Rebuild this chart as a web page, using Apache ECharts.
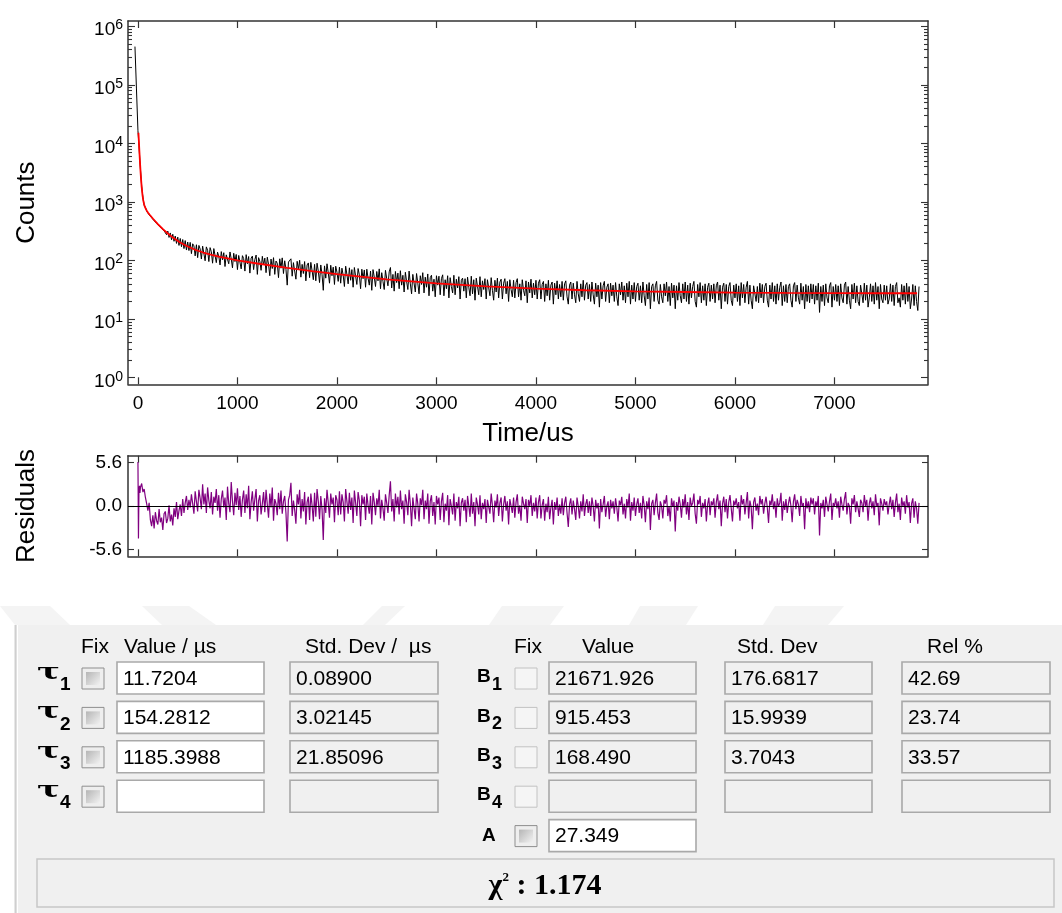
<!DOCTYPE html>
<html><head><meta charset="utf-8">
<script src="https://cdn.jsdelivr.net/npm/echarts@6/dist/echarts.min.js"></script>
<style>html,body{margin:0;padding:0;background:#fff}#c{width:1062px;height:913px}</style>
</head><body><div id="c"></div>
<script>
// ---------- axis ticks ----------
const X_TICKS = [0, 1000, 2000, 3000, 4000, 5000, 6000, 7000];
const Y_DECADES = [1, 10, 100, 1000, 10000, 100000, 1000000];
const Y_MINOR_MULT = [2, 3, 4, 5, 6, 7, 8, 9];
const RES_TICKS = [-5.6, 0, 5.6];

// ---------- decay data (counts) ----------
const COUNTS_EARLY = [[-30, 450000], [-15, 85000], [0, 16500], [10, 9300], [20, 4800]];
const COUNTS_T0 = 25, COUNTS_DT = 12.5;
const COUNTS = [
3610,1850,1190,880,812,698,676,602,605,538,541,478,482,430,437,388,395,351,358,322,
345,276,318,248,296,226,281,213,262,196,251,181,238,172,228,160,219,151,207,148,
204,131,193,178,120,186,112,181,158,106,176,164,99,171,150,96,166,141,90,160,
148,92,139,118,84,142,103,136,79,125,131,88,140,107,75,133,96,127,70,122,
129,72,121,108,66,126,88,117,61,110,119,70,104,124,58,112,97,68,118,84,
110,62,114,86,55,106,73,112,58,98,90,51,107,74,111,60,99,71,38,94,
95,107,54,92,66,48,97,71,101,52,86,60,96,45,84,91,51,93,67,47,
86,45,90,66,42,84,58,31,81,50,88,62,41,83,55,77,39,80,63,44,
77,41,74,56,36,80,58,40,75,46,70,35,76,54,39,73,57,33,71,49,
69,35,71,50,38,66,31,70,52,36,65,45,72,33,62,44,32,68,49,37,
64,76,34,58,30,65,42,61,33,67,38,56,29,63,44,32,66,40,27,58,
57,29,60,41,27,55,39,62,28,52,35,59,25,51,56,30,48,24,55,38,
54,26,49,57,25,47,33,55,23,51,36,28,56,26,48,34,53,22,46,50,
30,49,23,52,35,25,54,27,47,21,50,36,26,53,24,45,32,49,22,47,
47,25,51,31,21,46,29,50,23,43,48,22,41,49,27,44,20,47,32,24,
46,23,42,49,24,40,21,47,31,25,45,19,43,28,48,23,41,26,46,22,
41,47,22,39,44,20,40,25,46,21,38,43,18,41,26,45,22,39,24,44,
21,40,45,24,18,38,43,22,41,26,19,44,27,20,40,24,46,21,38,42,
22,39,20,43,26,18,41,24,38,16,42,22,37,44,20,35,40,19,41,25,
38,20,42,24,17,40,26,43,21,37,19,41,24,44,18,38,22,42,20,36,
41,21,37,19,43,25,17,39,22,42,15,36,40,20,37,44,21,18,39,24,
19,40,25,43,20,36,17,41,23,38,15,37,21,42,25,19,40,22,43,20,
38,18,41,23,36,44,20,16,39,24,42,19,37,21,40,17,35,41,20,38,
22,40,19,37,43,21,38,15,35,41,20,39,18,36,42,21,17,38,23,40,
20,37,17,42,23,39,19,35,44,18,38,21,15,37,40,20,36,19,41,23,
39,19,36,41,21,16,38,22,42,20,37,18,40,21,35,43,17,37,20,39,
19,36,40,21,16,37,42,20,38,23,18,41,21,36,15,39,20,37,19,40,
22,39,18,37,21,41,13,36,20,38,17,40,23,19,37,42,16,36,21,39,
20,37,17,40,23,19,38,43,18,36,21,15,39,22,41,19,37,20,17,38,
36,19,41,21,38,16,23,40,20,37,18,42,21,36,15,39,22,19,38,21,
37,18,22,40,20,38,17,36,42,19,23,16,39,21,37,18,41,20,36,15,
22,39,17,37,20,14,36
];

// ---------- fitted curve ----------
const FIT_T = [5,10,15,20,25,30,37,45,53,62,72,87,100,120,154,200,251,300,355,420,490,570,656,740,824,1000,1200,1500,1750,2000,2500,3000,3500,4000,4500,5000,5500,6000,6500,7000,7500,7830];
const FIT_V = [15200,10300,7050,4930,3540,2620,1830,1340,1070,908,806,718,661,599,512,420,343,289,244,205,177,154,137,125,115,101,89,75,65.8,58.5,47.8,40.8,36.1,33.1,31.1,29.8,29.0,28.4,28.0,27.8,27.6,27.6];

// ---------- residuals ----------
const RES_EARLY = [[0, 5.7], [5, -4.2], [10, 1.8], [15, 2.6], [20, 1.7]];
const RES_T0 = 25, RES_DT = 12.5;
const RESIDUALS = [
2.4,2.9,1.8,2.2,1.1,0.3,-0.6,0.4,-1.8,-2.6,-1.2,-2.9,-0.8,-1.9,-2.4,-0.4,-2.1,-1.5,-3.1,-1.0,
-0.7,-2.2,-1.6,0.1,-2.0,-1.1,-2.5,-0.3,-1.4,0.5,-1.7,-0.6,0.2,-1.3,0.9,-0.9,0.4,1.3,-0.5,0.8,
-0.2,1.5,0.3,-1.0,1.9,0.6,-0.7,2.1,1.0,-0.4,2.8,0.2,1.6,-0.9,2.4,0.7,-0.3,1.8,-1.1,1.2,
0.4,2.2,-0.6,1.4,-1.5,0.9,2.0,-0.2,1.1,-1.8,2.5,0.3,-0.8,3.1,0.6,-1.2,1.7,0.1,2.3,-0.5,
1.3,-1.4,0.8,2.0,-0.9,1.5,-0.3,2.6,-1.7,0.5,1.9,-0.6,0.9,2.2,-2.0,0.7,1.4,-1.1,0.3,1.8,
-0.8,2.1,0.2,-1.5,1.6,-0.2,2.4,-1.9,0.9,0.3,-1.2,1.7,-0.4,2.0,-1.0,0.6,1.3,-0.9,-4.6,0.8,
1.4,3.0,-1.3,0.7,-0.5,-2.3,1.5,0.2,2.1,-1.6,0.9,-0.7,1.8,-2.4,0.5,1.2,-1.8,1.6,0.1,-2.0,
1.7,-1.4,2.2,0.6,-1.7,1.3,-0.4,-4.4,1.0,-0.9,2.1,0.4,-1.5,1.6,0.2,1.1,-2.1,1.4,0.8,-1.2,
1.9,-1.1,1.5,0.5,-2.0,2.2,0.6,-1.0,1.7,-0.5,1.1,-2.2,2.0,0.4,-1.3,1.8,0.7,-2.6,1.4,0.2,
1.2,-1.8,1.6,0.1,-1.0,1.3,-2.4,1.7,0.5,-1.2,1.0,0.0,2.1,-1.6,0.8,-0.3,-1.9,1.5,0.4,-0.9,
1.4,3.2,-0.7,0.9,-2.0,1.6,-0.2,1.2,-1.1,2.0,-0.4,0.7,-2.3,1.5,0.5,-1.2,2.1,0.3,-2.6,1.1,
1.0,-1.7,1.6,0.3,-2.0,1.0,0.1,2.1,-1.7,0.7,-0.4,1.6,-2.3,0.6,1.4,-1.3,0.5,-2.4,1.3,0.2,
1.1,-1.8,0.6,1.7,-2.1,0.3,-0.6,1.4,-2.5,0.9,0.0,-1.1,1.6,-1.9,0.5,-0.3,1.2,-2.6,0.4,1.0,
-0.6,0.8,-2.1,1.3,0.0,-1.4,1.6,-1.0,0.5,-2.6,1.1,0.2,-1.1,1.4,-1.7,0.4,-0.4,0.9,-2.2,0.8,
0.9,-1.0,1.6,0.1,-2.1,0.7,-0.2,1.5,-1.3,0.4,1.1,-2.0,0.2,1.3,-0.6,0.6,-2.4,0.9,0.0,-0.9,
1.1,-1.5,0.5,1.5,-1.0,0.1,-1.9,1.2,0.3,-0.4,0.9,-2.2,0.8,0.0,1.4,-1.3,0.4,-0.7,1.1,-1.6,
0.5,1.4,-1.6,0.1,0.9,-1.9,0.3,-0.8,1.2,-1.7,-0.2,0.8,-2.4,0.5,-0.5,1.1,-1.3,0.2,-1.0,1.0,
-1.2,0.4,1.2,-0.9,-2.7,0.2,1.0,-1.1,0.7,-0.4,-1.8,1.1,0.0,-1.6,0.6,-0.7,1.5,-1.3,0.2,0.9,
-0.9,0.6,-1.3,1.1,0.0,-2.0,0.8,-0.3,0.4,-2.9,0.9,-0.8,0.2,1.3,-1.4,0.0,0.6,-1.7,0.8,-0.3,
0.6,-1.0,1.0,-0.2,-2.0,0.7,0.1,1.2,-1.1,0.3,-1.6,0.9,-0.2,1.6,-1.9,0.5,-0.6,1.1,-1.3,0.2,
1.0,-0.9,0.4,-1.6,1.3,0.1,-2.1,0.6,-0.4,1.1,-3.1,0.3,0.8,-1.2,0.4,1.6,-0.9,-1.8,0.6,0.0,
-1.6,0.8,0.3,1.4,-1.3,0.0,-2.0,1.0,-0.1,0.7,-3.3,0.5,-0.6,1.2,0.2,-1.5,0.9,-0.2,1.5,-1.1,
0.5,-1.8,1.1,0.0,0.4,1.6,-1.0,-2.3,0.8,0.2,1.3,-1.4,0.4,-0.3,0.9,-2.0,0.2,1.1,-1.2,0.6,
0.1,1.0,-1.5,0.5,1.5,-0.4,0.7,-2.6,0.3,1.2,-0.8,0.9,-1.6,0.5,1.4,-0.3,-2.0,0.7,0.1,1.0,
-0.3,0.5,-1.9,1.4,0.2,0.9,-1.1,0.4,1.8,-1.6,0.7,-0.1,-3.0,0.5,1.1,-0.6,0.3,-1.2,1.3,0.2,
0.9,-1.0,0.3,1.2,-0.2,-2.2,0.7,0.1,1.5,-0.4,0.6,-1.5,1.0,-0.1,0.4,1.7,-1.9,0.6,-0.5,0.9,
-0.9,0.3,1.2,0.0,-2.1,0.6,1.5,-0.4,0.8,0.2,-1.3,1.3,-0.1,0.4,-3.0,1.0,-0.3,0.6,-0.8,1.1,
0.2,1.0,-1.1,0.6,-0.1,1.3,-3.8,0.4,-0.3,0.8,-1.4,1.2,0.2,-0.7,0.6,1.6,-1.8,0.4,0.0,1.0,
-0.3,0.6,-1.5,1.2,0.2,-0.6,0.9,1.8,-1.1,0.4,0.0,-2.3,1.0,0.2,1.4,-0.8,0.6,-0.3,-1.4,0.8,
0.4,-0.8,1.4,0.0,0.8,-1.9,0.3,1.1,-0.3,0.6,-1.2,1.5,0.0,0.4,-2.5,1.0,0.3,-0.6,0.9,0.1,
0.6,-1.1,0.2,1.2,-0.4,0.8,-1.4,0.4,1.6,-0.8,0.3,-1.8,1.1,0.0,0.6,-1.0,1.4,-0.2,0.5,-2.2,
0.3,1.0,-1.5,0.6,-0.3,-2.3,0.4
];

// ---------- fit parameter table ----------
const TAU_LABELS = ['1', '2', '3', '4'];
const TAU_VALUES = ['11.7204', '154.2812', '1185.3988', ''];
const TAU_STD = ['0.08900', '3.02145', '21.85096', ''];
const B_VALUES = ['21671.926', '915.453', '168.490', ''];
const B_STD = ['176.6817', '15.9939', '3.7043', ''];
const REL_PCT = ['42.69', '23.74', '33.57', ''];
const A_VALUE = '27.349';
const CHI2 = '1.174';

// ---------- build ----------
const countsData = COUNTS_EARLY.concat(COUNTS.map((v, i) => [COUNTS_T0 + i * COUNTS_DT, v]));
const fitData = FIT_T.map((t, i) => [t, FIT_V[i]]);
const resData = RES_EARLY.concat(RESIDUALS.map((v, i) => [RES_T0 + i * RES_DT, v]));
const Y_MINOR = [];
Y_DECADES.slice(0, -1).forEach(d => Y_MINOR_MULT.forEach(m => Y_MINOR.push(d * m)));

const SANS = '"Liberation Sans", Arial, sans-serif';
const AX = '#333';
const X_MIN = -100, X_MAX = 7940;
const Y_MIN = 0.77, Y_MAX = 1.23e6;

function xAx(grid, pos, labels, extra) {
  return Object.assign({
    type: 'value', gridIndex: grid, position: pos, min: X_MIN, max: X_MAX,
    axisLine: { show: true, onZero: false, lineStyle: { color: AX, width: 1.5 } },
    axisTick: { show: true, inside: true, length: 7, customValues: X_TICKS, lineStyle: { color: AX, width: 1.2 } },
    axisLabel: labels ? { show: true, customValues: X_TICKS, formatter: v => String(v), fontSize: 19, fontFamily: SANS, color: '#000', margin: 10 } : { show: false },
    splitLine: { show: false }
  }, extra || {});
}
function yLog(pos, ticks, len, labels, line, extra) {
  return Object.assign({
    type: 'log', logBase: 10, gridIndex: 0, position: pos, min: Y_MIN, max: Y_MAX,
    axisLine: { show: line, onZero: false, lineStyle: { color: AX, width: 1.5 } },
    axisTick: { show: true, inside: true, length: len, customValues: ticks, lineStyle: { color: AX, width: 1.1 } },
    axisLabel: labels ? {
      show: true, customValues: Y_DECADES, margin: 5, padding: [8, 0, 0, 0],
      formatter: v => '{b|10}{s|' + Math.round(Math.log10(v)) + '}',
      rich: {
        b: { fontSize: 19, fontFamily: SANS, color: '#000', lineHeight: 20 },
        s: { fontSize: 14, fontFamily: SANS, color: '#000', lineHeight: 14, padding: [0, 0, 10, 0] }
      }
    } : { show: false },
    splitLine: { show: false }
  }, extra || {});
}
function yRes(pos, labels, extra) {
  return Object.assign({
    type: 'value', gridIndex: 1, position: pos, min: -6.5, max: 6.5,
    axisLine: { show: true, onZero: false, lineStyle: { color: AX, width: 1.5 } },
    axisTick: { show: true, inside: true, length: 6, customValues: RES_TICKS, lineStyle: { color: AX, width: 1.1 } },
    axisLabel: labels ? { show: true, customValues: RES_TICKS, formatter: v => v.toFixed(1), fontSize: 19, fontFamily: SANS, color: '#000', margin: 6 } : { show: false },
    splitLine: { show: false }
  }, extra || {});
}

// ---------- table graphics ----------
const G = [];
const WM = '#f4f4f4';
[[[0,606],[50,606],[70,625],[15,625]], [[142,606],[189,606],[216,625],[162,625]],
 [[382,606],[405,606],[385,625],[363,625]], [[502,606],[564,606],[550,625],[489,625]],
 [[640,606],[698,606],[686,625],[629,625]], [[775,606],[844,606],[828,625],[763,625]]]
  .forEach(p => G.push({ type: 'polygon', shape: { points: p }, style: { fill: WM } }));
G.push({ type: 'rect', shape: { x: 15, y: 625, width: 1047, height: 288 }, style: { fill: '#f0f0f0' } });
G.push({ type: 'line', shape: { x1: 15.5, y1: 625, x2: 15.5, y2: 913 }, style: { stroke: '#cfcfcf', lineWidth: 2 } });
G.push({ type: 'line', shape: { x1: 17.5, y1: 625, x2: 17.5, y2: 913 }, style: { stroke: '#ffffff', lineWidth: 1 } });

function T(x, y, text, font, extra) {
  G.push(Object.assign({ type: 'text', x: x, y: y, z: 10,
    style: { text: text, font: font || ('21px ' + SANS), fill: '#000', align: 'left', verticalAlign: 'middle' } }, extra || {}));
}
function box(x, cy, w, white, text) {
  G.push({ type: 'rect', z: 5, shape: { x: x, y: cy - 16, width: w, height: 32 },
    style: { fill: white ? '#ffffff' : '#f0f0f0', stroke: '#a9a9a9', lineWidth: 1.6 } });
  if (text) T(x + 6, cy + 1, text);
}
function chkTau(x, cy) {
  G.push({ type: 'rect', z: 5, shape: { x: x, y: cy - 10, width: 22, height: 21 }, style: { fill: '#eeeeee', stroke: '#8e8e8e', lineWidth: 1 } });
  G.push({ type: 'rect', z: 6, shape: { x: x + 4, y: cy - 6, width: 14, height: 13 },
    style: { fill: { type: 'linear', x: 0, y: 0, x2: 1, y2: 1, colorStops: [{ offset: 0, color: '#b5b5b5' }, { offset: 1, color: '#f2f2f2' }] } } });
}
function chkB(x, cy) {
  G.push({ type: 'rect', z: 5, shape: { x: x, y: cy - 10, width: 22, height: 21 }, style: { fill: '#f5f5f5', stroke: '#c2c2c2', lineWidth: 1 } });
}

const HY = 647;
T(81, HY, 'Fix'); T(124, HY, 'Value / µs'); T(305, HY, 'Std. Dev /  µs');
T(514, HY, 'Fix'); T(582, HY, 'Value'); T(737, HY, 'Std. Dev'); T(927, HY, 'Rel %');

const ROW0 = 678, DY = 39.4;
TAU_LABELS.forEach((lab, i) => {
  const cy = ROW0 + i * DY;
  T(37, cy - 5, 'τ', 'bold 22px "DejaVu Serif", serif', { scaleX: 1.55 });
  T(60, cy + 7, lab, 'bold 19px ' + SANS);
  chkTau(82, cy);
  box(117, cy, 147, true, TAU_VALUES[i]);
  box(290, cy, 148, false, TAU_STD[i]);
  T(477, cy - 1, 'B', 'bold 19px ' + SANS);
  T(492, cy + 7, lab, 'bold 18px ' + SANS);
  chkB(515, cy);
  box(549, cy, 147, false, B_VALUES[i]);
  box(725, cy, 147, false, B_STD[i]);
  box(902, cy, 148, false, REL_PCT[i]);
});
const AY = ROW0 + 4 * DY;
T(482, AY, 'A', 'bold 19px ' + SANS);
chkTau(515, AY);
box(549, AY, 147, true, A_VALUE);

G.push({ type: 'rect', z: 5, shape: { x: 37, y: 859, width: 1017, height: 48 }, style: { fill: '#f0f0f0', stroke: '#c6c6c6', lineWidth: 1.5 } });
G.push({ type: 'text', x: 545, y: 886, z: 10, style: {
  text: '{c|χ}{p|2}{c| : ' + CHI2 + '}', align: 'center', verticalAlign: 'middle',
  rich: {
    c: { font: 'bold 30px "Liberation Serif", serif', fill: '#000' },
    p: { font: 'bold 13px "Liberation Serif", serif', fill: '#000', padding: [0, 0, 16, 0] }
  } } });

const option = {
  animation: false,
  backgroundColor: '#ffffff',
  grid: [
    { left: 128, top: 21, width: 800, height: 363.3 },
    { left: 128, top: 455.7, width: 800, height: 100.6 }
  ],
  xAxis: [
    xAx(0, 'bottom', true, { name: 'Time/us', nameLocation: 'middle', nameGap: 37,
      nameTextStyle: { fontSize: 26, fontFamily: SANS, color: '#000' } }),
    xAx(0, 'top', false),
    xAx(1, 'bottom', false),
    xAx(1, 'top', false)
  ],
  yAxis: [
    yLog('left', Y_DECADES, 7, true, true, { name: 'Counts', nameLocation: 'middle', nameRotate: 90, nameGap: 88,
      nameTextStyle: { fontSize: 26, fontFamily: SANS, color: '#000' } }),
    yLog('left', Y_MINOR, 4, false, false),
    yLog('right', Y_DECADES, 7, false, true),
    yLog('right', Y_MINOR, 4, false, false),
    yRes('left', true, { name: 'Residuals', nameLocation: 'middle', nameRotate: 90, nameGap: 88,
      nameTextStyle: { fontSize: 26, fontFamily: SANS, color: '#000' } }),
    yRes('right', false)
  ],
  series: [
    { name: 'Counts', type: 'line', xAxisIndex: 0, yAxisIndex: 0, data: countsData, showSymbol: false,
      lineStyle: { color: '#000000', width: 1 }, itemStyle: { color: '#000' }, z: 2 },
    { name: 'Fit', type: 'line', xAxisIndex: 0, yAxisIndex: 0, data: fitData, showSymbol: false, smooth: false,
      lineStyle: { color: '#ff0000', width: 1.8 }, itemStyle: { color: '#f00' }, z: 3 },
    { name: 'Residuals', type: 'line', xAxisIndex: 2, yAxisIndex: 4, data: resData, showSymbol: false,
      lineStyle: { color: '#800080', width: 1.2 }, itemStyle: { color: '#800080' }, z: 2,
      markLine: { silent: true, symbol: 'none', label: { show: false }, animation: false,
        lineStyle: { color: '#000', width: 1, type: 'solid' }, data: [{ yAxis: 0 }] } }
  ],
  graphic: { elements: G }
};
const chart = echarts.init(document.getElementById('c'), null, { renderer: 'canvas' });
chart.setOption(option);
</script></body></html>
